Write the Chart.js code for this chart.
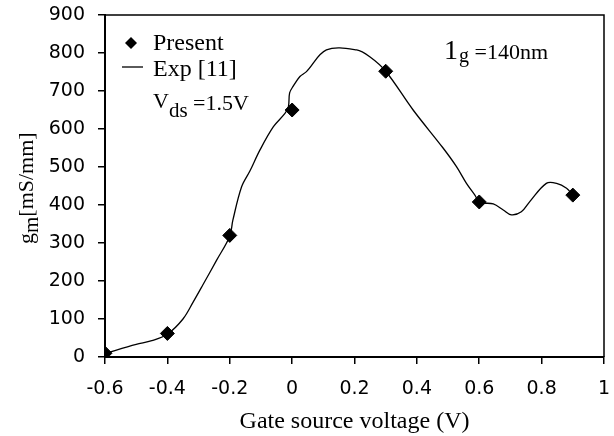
<!DOCTYPE html>
<html>
<head>
<meta charset="utf-8">
<script src="https://cdn.jsdelivr.net/npm/chart.js@4/dist/chart.umd.min.js"></script>
<style>
  html, body { margin: 0; padding: 0; background: #fff; }
  #wrap { width: 614px; height: 436px; }
</style>
</head>
<body>
<div id="wrap"><canvas id="chart-gm" width="614" height="436"></canvas></div>
<script>
// Present (simulation) points
const presentV = [-0.6, -0.4, -0.2, 0, 0.3, 0.6, 0.9];
const presentGm = [10, 62, 320, 650, 752, 408, 426];

// Exp [11] curve
const expV = [-0.6, -0.5, -0.45, -0.4, -0.35, -0.317, -0.286, -0.242, -0.2, -0.19, -0.162, -0.135,
  -0.103, -0.06, -0.023, -0.012, -0.008, 0.003, 0.025, 0.046, 0.11, 0.207, 0.249, 0.3, 0.388,
  0.484, 0.527, 0.559, 0.586, 0.602, 0.645, 0.677, 0.703, 0.735, 0.762, 0.815, 0.848, 0.88, 0.9];
const expGm = [9, 33, 43, 60, 100, 145, 190, 255, 318, 360, 448, 490,
  545, 606, 641, 658, 695, 712, 738, 751, 808, 808, 790, 752, 650,
  550, 501, 457, 426, 407, 403, 387, 374, 382, 409, 457, 457, 444, 426];

const xTicks = [-0.6, -0.4, -0.2, 0, 0.2, 0.4, 0.6, 0.8, 1];
const yTicks = [0, 100, 200, 300, 400, 500, 600, 700, 800, 900];

const SERIF = '"Liberation Serif", "Times New Roman", serif';
const SANS = '"DejaVu Sans", Verdana, sans-serif';

function drawSub(ctx, parts, x, y) {
  // parts: [text, fontSize, baselineShift, gapBefore]
  parts.forEach(([t, size, dy, gap = 0]) => {
    x += gap;
    ctx.font = `${size}px ${SERIF}`;
    ctx.fillText(t, x, y + dy);
    x += ctx.measureText(t).width;
  });
}

const extras = {
  id: 'extras',
  afterDraw(chart) {
    const { ctx, chartArea: a } = chart;
    ctx.save();
    ctx.strokeStyle = '#000';
    ctx.lineWidth = 1.5;
    ctx.beginPath();
    ctx.moveTo(a.left, a.top);
    ctx.lineTo(a.right, a.top);
    ctx.lineTo(a.right, a.bottom);
    ctx.stroke();

    ctx.fillStyle = '#000';
    ctx.textAlign = 'left';
    ctx.textBaseline = 'alphabetic';

    // legend
    ctx.beginPath();
    ctx.moveTo(131, 37); ctx.lineTo(137, 43); ctx.lineTo(131, 49); ctx.lineTo(125, 43);
    ctx.closePath();
    ctx.fill();
    ctx.font = `24px ${SERIF}`;
    ctx.fillText('Present', 153, 50);
    ctx.lineWidth = 1.3;
    ctx.beginPath();
    ctx.moveTo(122, 67); ctx.lineTo(143, 67);
    ctx.stroke();
    ctx.fillText('Exp [11]', 153, 76);

    drawSub(ctx, [['V', 22, 0], ['ds', 21, 9], [' =1.5V', 22, 2]], 153, 108);
    drawSub(ctx, [['1', 28, 0], ['g', 20, 3, 1], [' =140nm', 22, 0]], 444, 59);

    // x title
    ctx.textAlign = 'center';
    ctx.font = `24px ${SERIF}`;
    ctx.fillText('Gate source voltage (V)', (a.left + a.right) / 2, 428);

    // y title (rotated)
    ctx.textAlign = 'left';
    ctx.translate(33, 244);
    ctx.rotate(-Math.PI / 2);
    drawSub(ctx, [['g', 22, 0], ['m', 21, 5], ['[mS/mm]', 22, 0]], 0, 0);
    ctx.restore();
  }
};

const ctx = document.getElementById('chart-gm').getContext('2d');
new Chart(ctx, {
  type: 'scatter',
  data: {
    datasets: [
      {
        label: 'Present',
        data: presentV.map((v, i) => ({ x: v, y: presentGm[i] })),
        pointStyle: 'rectRot',
        pointRadius: 7,
        backgroundColor: '#000',
        borderColor: '#000',
        showLine: false,
      },
      {
        label: 'Exp [11]',
        data: expV.map((v, i) => ({ x: v, y: expGm[i] })),
        showLine: true,
        borderColor: '#000',
        borderWidth: 1.3,
        pointRadius: 0,
        tension: 0.35,
      },
    ],
  },
  options: {
    responsive: false,
    animation: false,
    layout: { padding: { top: 15, right: 10, left: 0, bottom: 0 } },
    plugins: { legend: { display: false }, tooltip: { enabled: false } },
    scales: {
      x: {
        type: 'linear',
        min: -0.6,
        max: 1,
        afterBuildTicks: s => { s.ticks = xTicks.map(v => ({ value: v })); },
        afterFit: s => { s.height = 79; s.paddingLeft = 0; s.paddingRight = 0; },
        grid: { drawOnChartArea: false, tickLength: 7, color: '#000', lineWidth: 1.5 },
        border: { color: '#000', width: 2 },
        ticks: {
          color: '#000',
          padding: 14,
          maxRotation: 0,
          font: { family: SANS, size: 19 },
          callback: v => String(Math.round(v * 10) / 10),
        },
      },
      y: {
        min: 0,
        max: 900,
        afterBuildTicks: s => { s.ticks = yTicks.map(v => ({ value: v })); },
        afterFit: s => { s.width = 105; s.paddingTop = 0; s.paddingBottom = 0; },
        grid: { drawOnChartArea: false, tickLength: 7, color: '#000', lineWidth: 1.5 },
        border: { color: '#000', width: 2 },
        ticks: {
          color: '#000',
          padding: 13,
          font: { family: SANS, size: 19 },
        },
      },
    },
  },
  plugins: [extras],
});
</script>
</body>
</html>
